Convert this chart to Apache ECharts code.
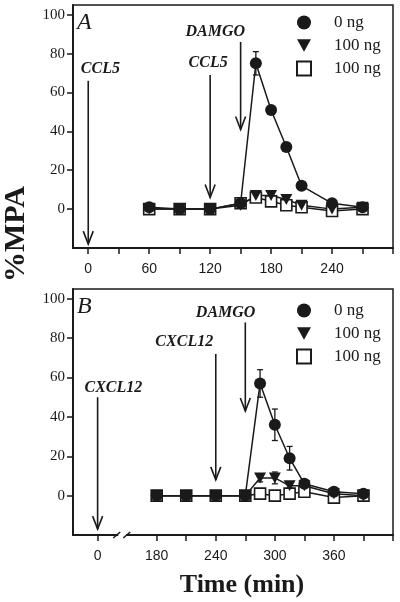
<!DOCTYPE html>
<html><head><meta charset="utf-8">
<script src="https://cdn.jsdelivr.net/npm/echarts@6/dist/echarts.min.js"></script>
<style>html,body{margin:0;padding:0;background:#fff}#c{width:400px;height:602px}</style>
</head><body><div id="c"></div>
<script>
// ---- data (panel A: CCL5) ----
const timeA = [60, 90, 120, 150, 165, 180, 195, 210, 240, 270];
const a0 = [1, 0, 0, 3, 75, 51, 32, 12, 3, 1];
const a0Err = [1, 1, 1, 1, 6, 2, 2, 1, 1, 1];
const a100t = [0, 0, 0, 2, 7, 7, 5, 2, 0, 1];
const a100s = [0, 0, 0, 3, 6, 4, 2, 1, -1, 0];
// ---- data (panel B: CXCL12) ----
const timeB = [180, 210, 240, 270, 285, 300, 315, 330, 360, 390];
const b0 = [0, 0, 0, 0, 57, 36, 19, 6, 2, 1];
const b0Err = [1, 1, 1, 1, 7, 8, 6, 2, 1, 1];
const b100t = [0, 0, 0, 0, 9, 9, 5, 5, 1, 0];
const b100tErr = [0, 0, 0, 0, 2, 3, 1, 1, 0, 0];
const b100s = [0, 0, 0, 0, 1, 0, 1, 2, -1, 0];
const legendLabels = ['0 ng', '100 ng', '100 ng'];
// arrows: [time, yStart, yTip]
const arrowsA = [[0, 66, -18], [120, 69, 6], [150, 86, 41]];
const textsA = [[12, 72, 'CCL5'], [118, 75, 'CCL5'], [125, 91, 'DAMGO']];
const arrowsB = [[0, 50, -17], [240, 72, 8], [270, 88, 43]];
const textsB = [[16, 55, 'CXCL12'], [208, 78, 'CXCL12'], [250, 93, 'DAMGO']];
const ticksA = [0, 30, 60, 90, 120, 150, 180, 210, 240, 270, 300];
const labelsA = [0, 60, 120, 180, 240];
const ticksB = [0, 180, 210, 240, 270, 300, 330, 360, 390, 420];
const labelsB = [0, 180, 240, 300, 360];
const yTicks = [0, 20, 40, 60, 80, 100];
const breakB = 25;

// panel B axis is broken between 0 and 180: early times are shifted right
const BREAK_SHIFT = 120;
const bx = t => (t < 100 ? t + BREAK_SHIFT : t);
const bxLabel = v => (v < 150 ? String(v - BREAK_SHIFT) : String(v));

const INK = '#1a1a1a';
const SERIF = '"Liberation Serif", "Times New Roman", serif';
const SANS = '"Liberation Sans", Arial, sans-serif';
const triPath = 'path://M0,0 L10,0 L5,9 Z';

function pairs(xs, ys, fx) { return xs.map((x, i) => [fx ? fx(x) : x, ys[i]]); }
function errs(xs, ys, es, fx) { return xs.map((x, i) => [fx ? fx(x) : x, ys[i], es[i]]); }

function arrowItem(params, api) {
  const p1 = api.coord([api.value(0), api.value(1)]);
  const p2 = api.coord([api.value(0), api.value(2)]);
  return { type: 'group', children: [
    { type: 'line', shape: { x1: p1[0], y1: p1[1], x2: p2[0], y2: p2[1] }, style: { stroke: INK, lineWidth: 1.6 } },
    { type: 'polyline', shape: { points: [[p2[0] - 5, p2[1] - 13], [p2[0], p2[1]], [p2[0] + 5, p2[1] - 13]] }, style: { stroke: INK, lineWidth: 1.6, fill: null } }
  ]};
}
function errItem(params, api) {
  const x = api.value(0), y = api.value(1), e = api.value(2);
  if (!e) return null;
  const top = api.coord([x, y + e]), bot = api.coord([x, y - e]);
  return { type: 'group', children: [
    { type: 'line', shape: { x1: top[0], y1: top[1], x2: bot[0], y2: bot[1] }, style: { stroke: INK, lineWidth: 1.3 } },
    { type: 'line', shape: { x1: top[0] - 3, y1: top[1], x2: top[0] + 3, y2: top[1] }, style: { stroke: INK, lineWidth: 1.3 } },
    { type: 'line', shape: { x1: bot[0] - 3, y1: bot[1], x2: bot[0] + 3, y2: bot[1] }, style: { stroke: INK, lineWidth: 1.3 } }
  ]};
}
function textRenderer(list) {
  return function (params, api) {
    const p = api.coord([api.value(0), api.value(1)]);
    return { type: 'text', x: p[0], y: p[1], style: { text: list[params.dataIndex][2], font: 'italic bold 16px ' + SERIF, fill: INK, align: 'center', verticalAlign: 'middle' } };
  };
}
function breakItem(params, api) {
  const p = api.coord([api.value(0), api.value(1)]);
  return { type: 'group', children: [
    { type: 'rect', shape: { x: p[0] - 4, y: p[1] - 3, width: 8, height: 6 }, style: { fill: '#fff' } },
    { type: 'line', shape: { x1: p[0] - 9, y1: p[1] + 3, x2: p[0] - 2, y2: p[1] - 3 }, style: { stroke: INK, lineWidth: 1.5 } },
    { type: 'line', shape: { x1: p[0] + 1, y1: p[1] + 3, x2: p[0] + 8, y2: p[1] - 3 }, style: { stroke: INK, lineWidth: 1.5 } }
  ]};
}

function xAxisCfg(gridIndex, min, max, ticks, labels, fmt) {
  return {
    type: 'value', gridIndex, min, max,
    axisLine: { onZero: false, lineStyle: { color: INK, width: 2 } },
    axisTick: { show: true, length: 6, lineStyle: { color: INK, width: 1.5 }, customValues: ticks },
    axisLabel: { customValues: labels, margin: 14, color: INK, fontFamily: SANS, fontSize: 14, formatter: fmt || (v => String(v)) },
    splitLine: { show: false }
  };
}
function yAxisCfg(gridIndex) {
  return {
    type: 'value', gridIndex, min: -20, max: 105,
    axisLine: { show: true, onZero: false, lineStyle: { color: INK, width: 2 } },
    axisTick: { show: true, length: 6, lineStyle: { color: INK, width: 1.5 }, customValues: yTicks },
    axisLabel: { customValues: yTicks, margin: 8, color: INK, fontFamily: SERIF, fontSize: 15 },
    splitLine: { show: false }
  };
}

function panelSeries(prefix, idx, xs, y0, e0, yt, et, ys, fx, arrows, texts) {
  const base = { xAxisIndex: idx, yAxisIndex: idx };
  const lineS = (data) => Object.assign({ type: 'line', data, symbol: 'none', lineStyle: { color: INK, width: 1.5 }, z: 2, silent: true }, base);
  const out = [
    lineS(pairs(xs, ys, fx)), lineS(pairs(xs, yt, fx)), lineS(pairs(xs, y0, fx)),
    Object.assign({ type: 'custom', renderItem: errItem, data: errs(xs, y0, e0, fx), z: 3, encode: { x: 0, y: 1 } }, base),
    Object.assign({ name: prefix + '2', type: 'scatter', data: pairs(xs, ys, fx), symbol: 'rect', symbolSize: 11, itemStyle: { color: '#fff', borderColor: INK, borderWidth: 1.6, opacity: 1 }, z: 4 }, base),
    Object.assign({ name: prefix + '1', type: 'scatter', data: pairs(xs, yt, fx), symbol: triPath, symbolSize: [12, 11], itemStyle: { color: INK, opacity: 1 }, z: 5 }, base),
    Object.assign({ name: prefix + '0', type: 'scatter', data: pairs(xs, y0, fx), symbol: 'circle', symbolSize: 12, itemStyle: { color: INK, opacity: 1 }, z: 6 }, base),
    Object.assign({ type: 'custom', renderItem: arrowItem, data: arrows.map(a => [fx ? fx(a[0]) : a[0], a[1], a[2]]), z: 7, clip: false, encode: { x: 0, y: 1 } }, base),
    Object.assign({ type: 'custom', renderItem: textRenderer(texts), data: texts.map(t => [fx ? fx(t[0]) : t[0], t[1]]), z: 7, clip: false, encode: { x: 0, y: 1 } }, base)
  ];
  if (et) out.splice(4, 0, Object.assign({ type: 'custom', renderItem: errItem, data: errs(xs, yt, et, fx), z: 3, encode: { x: 0, y: 1 } }, base));
  return out;
}

const series = [].concat(
  panelSeries('A', 0, timeA, a0, a0Err, a100t, null, a100s, null, arrowsA, textsA),
  panelSeries('B', 1, timeB, b0, b0Err, b100t, b100tErr, b100s, bx, arrowsB, textsB),
  [{ type: 'custom', xAxisIndex: 1, yAxisIndex: 1, renderItem: breakItem, data: [[bx(breakB), -20]], clip: false, z: 10, encode: { x: 0, y: 1 } }]
);

function legendCfg(prefix, top) {
  return {
    orient: 'vertical', left: 291, top, itemWidth: 14, itemHeight: 14, itemGap: 6,
    selectedMode: false,
    data: [{ name: prefix + '0', icon: 'circle' }, { name: prefix + '1', icon: triPath }, { name: prefix + '2', icon: 'rect' }],
    formatter: n => legendLabels[+n.slice(1)],
    textStyle: { fontFamily: SERIF, fontSize: 17, color: INK, lineHeight: 14, padding: [0, 0, 0, 18] }
  };
}

const chart = echarts.init(document.getElementById('c'), null, { renderer: 'canvas' });
chart.setOption({
  animation: false,
  backgroundColor: '#fff',
  grid: [
    { left: 73, top: 5, width: 320, height: 243, show: true, borderColor: INK, borderWidth: 1.5, backgroundColor: 'transparent' },
    { left: 73, top: 289, width: 320, height: 246, show: true, borderColor: INK, borderWidth: 1.5, backgroundColor: 'transparent' }
  ],
  xAxis: [
    xAxisCfg(0, -15, 300, ticksA, labelsA),
    xAxisCfg(1, 95, 420, ticksB.map(bx), labelsB.map(bx), bxLabel)
  ],
  yAxis: [yAxisCfg(0), yAxisCfg(1)],
  legend: [legendCfg('A', 9), legendCfg('B', 297)],
  graphic: [
    { type: 'text', left: 77, top: 11, style: { text: 'A', font: 'italic 24px ' + SERIF, fill: INK } },
    { type: 'text', left: 77, top: 295, style: { text: 'B', font: 'italic 24px ' + SERIF, fill: INK } },
    { type: 'text', x: 16, y: 234, rotation: Math.PI / 2, style: { text: '%MPA', font: 'bold 30px ' + SERIF, fill: INK, align: 'center', verticalAlign: 'middle' } },
    { type: 'text', x: 242, y: 585, style: { text: 'Time (min)', font: 'bold 26px ' + SERIF, fill: INK, align: 'center', verticalAlign: 'middle' } }
  ],
  series
});
</script></body></html>
